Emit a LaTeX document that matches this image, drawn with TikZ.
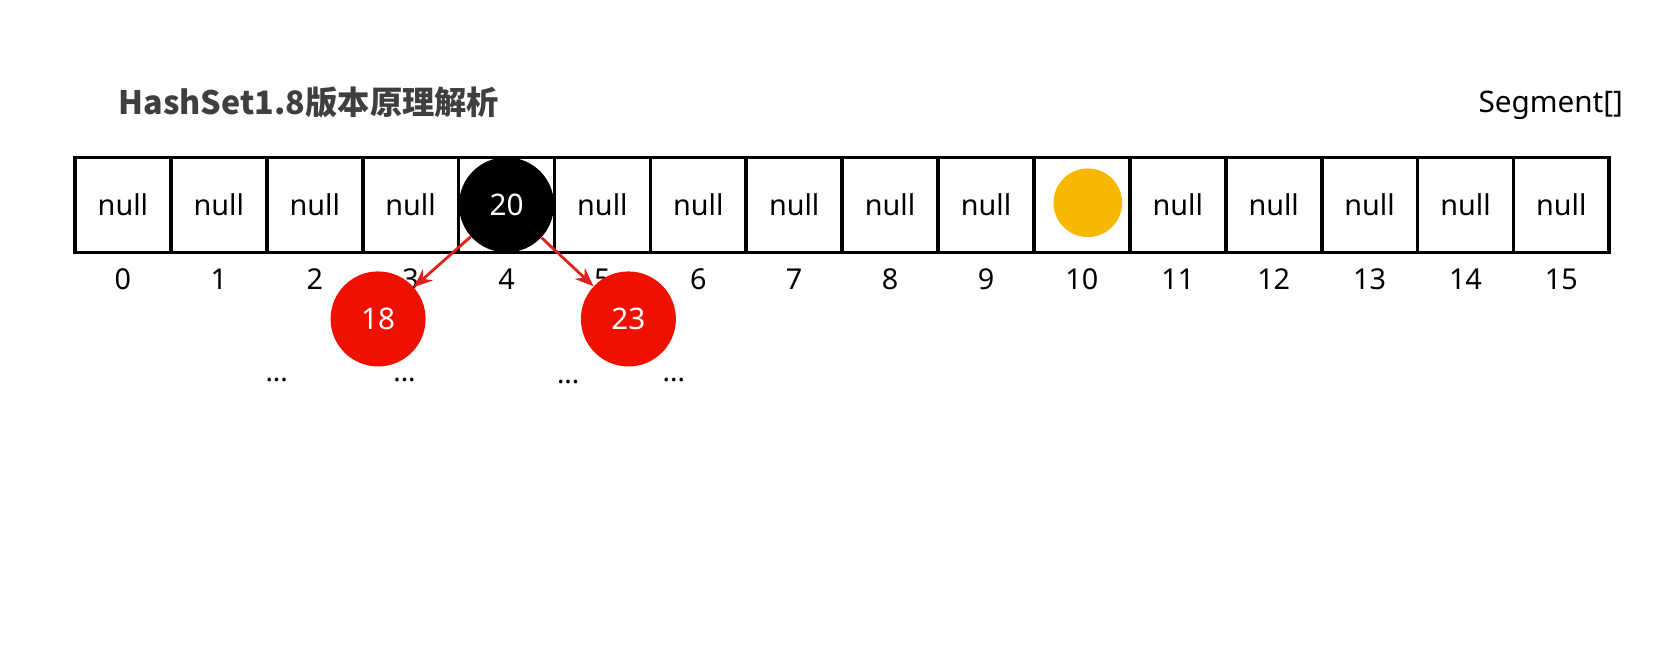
\documentclass[tikz,border=0pt]{standalone}
\usepackage{fontspec}
\setmainfont{Noto Sans}
\newfontfamily\cjk{Noto Sans CJK SC}
\usetikzlibrary{positioning,arrows.meta}
\definecolor{nodered}{HTML}{F01000}
\definecolor{arrowred}{HTML}{E0201A}
\definecolor{slotyellow}{HTML}{F8B800}
\definecolor{titlegray}{HTML}{3F3F3F}

\begin{document}
\begin{tikzpicture}[
	x=0.02cm, y=-0.02cm,
	cell/.style={draw, line width=2pt, minimum width=1.816cm, minimum height=1.8cm, inner sep=0pt, font=\fontsize{15.5}{18}\selectfont},
	idx/.style={font=\fontsize{15.5}{18}\selectfont, inner sep=0pt},
	tnode/.style={circle, minimum size=1.8cm, inner sep=0pt, text=white, font=\fontsize{16}{19}\selectfont},
	link/.style={-{Stealth[length=10pt, width=8pt]}, line width=1.5pt, color=arrowred},
	more/.style={font=\fontsize{15}{18}\selectfont, inner sep=0pt}
	]
	\useasboundingbox (0,0) rectangle (1568,614);
	% title and label
	\node[anchor=west, inner sep=0pt, text=titlegray, font=\cjk\bfseries\fontsize{17.4}{20}\selectfont] (title) at (112,97) {HashSet1.8版本原理解析};
	\node[anchor=east, inner sep=0pt, font=\fontsize{16}{19}\selectfont] (seg) at (1537,100) {Segment[]};
	
	% the 16 slots with their index below
	\foreach \val [count=\i from 0] in {null,null,null,null,,null,null,null,null,null,,null,null,null,null,null} {
		\node[cell] (c\i) at (116.4+90.8*\i, 194) {\val};
		\node[idx, below=0.27cm of c\i] (n\i) {\i};
	}
	
	% slot 4 holds the tree root, slot 10 is taken
	\node[tnode, fill=black] (k20) at (c4) {20};
	\node[circle, fill=slotyellow, minimum size=1.3cm, inner sep=0pt] (k10) at (1030,192) {};
	
	% children of 20
	\node[tnode, fill=nodered] (k18) at (358,302) {18};
	\node[tnode, fill=nodered] (k23) at (595,302) {23};
	\draw[link] (k20) -- (k18);
	\draw[link] (k20) -- (k23);
	
	\node[more] (d1) at (262,360) {...};
	\node[more] (d2) at (383,360) {...};
	\node[more] (d3) at (538,362) {...};
	\node[more] (d4) at (638,360) {...};
\end{tikzpicture}
\end{document}
